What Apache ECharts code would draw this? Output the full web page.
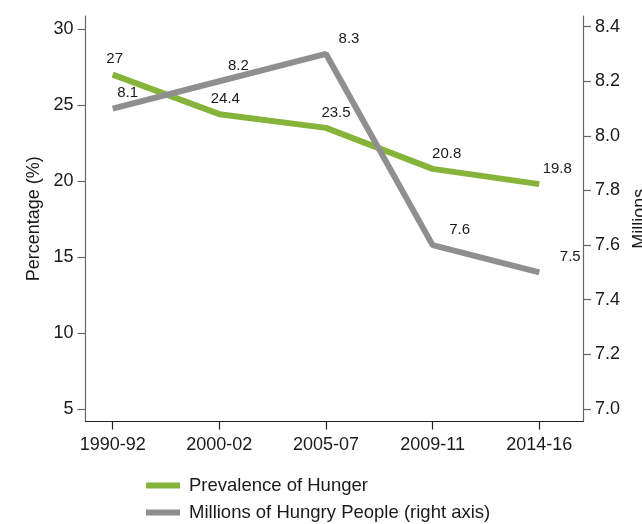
<!DOCTYPE html>
<html>
<head>
<meta charset="utf-8">
<script src="https://cdn.jsdelivr.net/npm/echarts@6/dist/echarts.min.js"></script>
<style>
  html, body { margin: 0; padding: 0; background: #fff; }
  #chart { width: 642px; height: 524px; }
</style>
</head>
<body>
<div id="chart"></div>
<script>
// data
var periods = ['1990-92', '2000-02', '2005-07', '2009-11', '2014-16'];
var prevalence = [27, 24.4, 23.5, 20.8, 19.8];        // left axis, %
var hungryMillions = [8.1, 8.2, 8.3, 7.6, 7.5];       // right axis, millions
var leftTicks = [5, 10, 15, 20, 25, 30];
var rightTicks = [7.0, 7.2, 7.4, 7.6, 7.8, 8.0, 8.2, 8.4];

var green = '#86b33a';
var grey = '#8f8f8f';
var fontFamily = 'Liberation Sans, Arial, sans-serif';
var textColor = '#1a1a1a';

// labels drift a bit to the right as we go along x
function points(values, baseX) {
    return values.map(function (v, i) {
        return {
            value: [i, v],
            label: { offset: [baseX + 4 * i, 0] }
        };
    });
}

function legendBox(name, top) {
    return {
        orient: 'vertical',
        left: 146,
        top: top,
        padding: 0,
        itemWidth: 34,
        itemHeight: 6,
        icon: 'rect',
        textStyle: { fontFamily: fontFamily, fontSize: 18.5, color: textColor, padding: [0, 0, 0, 4] },
        data: [name]
    };
}

var myChart = echarts.init(document.getElementById('chart'));

var option = {
    animation: false,
    backgroundColor: '#fff',
    grid: { left: 85.5, right: 59, top: 16, bottom: 102.5, containLabel: false, outerBoundsMode: 'none' },
    legend: [
        legendBox('Prevalence of Hunger', 476),
        legendBox('Millions of Hungry People (right axis)', 503)
    ],
    xAxis: {
        type: 'value',
        min: -0.255,
        max: 4.41,
        splitLine: { show: false },
        axisLine: { onZero: false, lineStyle: { color: '#222', width: 1.2 } },
        axisTick: {
            customValues: [0, 1, 2, 3, 4],
            length: 8,
            lineStyle: { color: '#222', width: 1.2 }
        },
        axisLabel: {
            customValues: [0, 1, 2, 3, 4],
            margin: 15,
            fontFamily: fontFamily,
            fontSize: 18,
            color: textColor,
            formatter: function (v) { return periods[Math.round(v)]; }
        }
    },
    yAxis: [
        {
            type: 'value',
            position: 'left',
            min: 4.18,
            max: 30.86,
            name: 'Percentage (%)',
            nameLocation: 'middle',
            nameGap: 41,
            nameTextStyle: { fontFamily: fontFamily, fontSize: 18, color: textColor },
            splitLine: { show: false },
            axisLine: { show: true, onZero: false, lineStyle: { color: '#666', width: 1.2 } },
            axisTick: {
                show: true,
                customValues: leftTicks,
                length: 8,
                lineStyle: { color: '#666', width: 1.2 }
            },
            axisLabel: {
                customValues: leftTicks,
                margin: 12,
                fontFamily: fontFamily,
                fontSize: 18,
                color: textColor
            }
        },
        {
            type: 'value',
            position: 'right',
            min: 6.954,
            max: 8.439,
            name: 'Millions',
            nameLocation: 'middle',
            nameGap: 45,
            nameTextStyle: { fontFamily: fontFamily, fontSize: 18, color: textColor },
            splitLine: { show: false },
            axisLine: { show: true, onZero: false, lineStyle: { color: '#666', width: 1.2 } },
            axisTick: {
                show: true,
                customValues: rightTicks,
                length: 8,
                lineStyle: { color: '#666', width: 1.2 }
            },
            axisLabel: {
                customValues: rightTicks,
                margin: 12,
                fontFamily: fontFamily,
                fontSize: 18,
                color: textColor,
                formatter: function (v) { return v.toFixed(1); }
            }
        }
    ],
    series: [
        {
            name: 'Prevalence of Hunger',
            type: 'line',
            yAxisIndex: 0,
            data: points(prevalence, 2),
            showSymbol: true,
            symbol: 'circle',
            symbolSize: 0,
            color: green,
            lineStyle: { color: green, width: 6 },
            label: {
                show: true,
                position: 'top',
                distance: 8,
                fontFamily: fontFamily,
                fontSize: 15,
                color: textColor,
                formatter: function (p) { return p.value[1]; }
            }
        },
        {
            name: 'Millions of Hungry People (right axis)',
            type: 'line',
            yAxisIndex: 1,
            data: points(hungryMillions, 15),
            showSymbol: true,
            symbol: 'circle',
            symbolSize: 0,
            color: grey,
            lineStyle: { color: grey, width: 6 },
            label: {
                show: true,
                position: 'top',
                distance: 8,
                fontFamily: fontFamily,
                fontSize: 15,
                color: textColor,
                formatter: function (p) { return p.value[1].toFixed(1); }
            }
        }
    ]
};

myChart.setOption(option);
</script>
</body>
</html>
